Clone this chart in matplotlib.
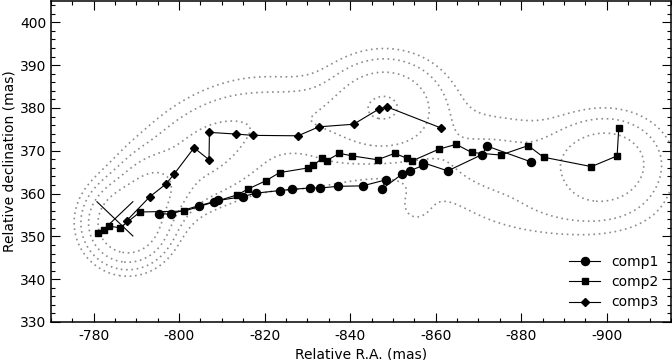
import numpy as np
import matplotlib
matplotlib.use("Agg")
import matplotlib.pyplot as plt

plt.rcParams['font.family'] = ['DejaVu Sans']
plt.rcParams['axes.unicode_minus'] = False

# ---- data (mas) ----
comp1_ra = [-795.4, -798.0, -804.7, -808.2, -809.2, -815.0, -817.9, -823.5, -826.5,
            -830.5, -833.0, -837.2, -842.9, -848.3, -847.5, -852.2, -853.9, -857.1,
            -857.1, -862.8, -870.8, -872.0, -882.3]
comp1_dec = [355.3, 355.2, 357.2, 358.1, 358.4, 359.3, 360.1, 360.7, 361.0,
             361.3, 361.3, 361.7, 361.8, 363.2, 361.1, 364.6, 365.3, 366.6,
             367.2, 365.3, 369.1, 371.1, 367.4]

comp2_ra = [-781.0, -782.5, -783.6, -786.2, -790.9, -801.2, -813.6, -816.0, -820.3,
            -823.5, -830.2, -831.4, -833.4, -834.5, -837.5, -840.5, -846.4, -850.4,
            -853.4, -854.4, -860.8, -864.8, -868.4, -875.2, -881.6, -885.2, -896.4,
            -902.4, -902.8]
comp2_dec = [350.9, 351.6, 352.4, 352.0, 355.7, 355.9, 359.7, 361.0, 363.0,
             364.9, 366.0, 366.6, 368.2, 367.7, 369.4, 368.8, 367.9, 369.4,
             368.2, 367.6, 370.4, 371.5, 369.6, 369.0, 371.2, 368.5, 366.3,
             368.8, 375.4]

comp3_ra = [-787.8, -793.2, -796.9, -798.8, -803.5, -807.0, -807.1, -813.4, -817.3,
            -827.8, -832.7, -840.8, -846.8, -848.5, -861.3]
comp3_dec = [353.7, 359.3, 362.2, 364.5, 370.7, 367.9, 374.3, 373.9, 373.6,
             373.5, 375.6, 376.2, 379.8, 380.3, 375.3]

# cross marking the reference position
cross_a_ra = [-780.8, -789.2]
cross_a_dec = [358.1, 350.1]
cross_b_ra = [-789.2, -780.8]
cross_b_dec = [358.1, 350.1]

# image model: gaussian components (ra, dec, sig_ra, sig_dec, angle_deg, amplitude)
img_ra   = [-788.0, -794.0, -806.0, -830.0, -848.0, -900.0, -874.0, -832.0, -890.0, -855.0, -845.0]
img_dec  = [353.0,  361.0,  370.0,  377.0,  380.5,  367.0,  367.5,  365.0,  356.0,  356.0,  372.0]
img_sra  = [5.0,    4.5,    13.0,   8.0,    8.0,    8.0,    12.0,   12.0,   14.0,   4.0,    20.0]
img_sdec = [5.0,    4.5,    7.0,    5.0,    6.5,    6.5,    7.0,    4.0,    5.0,    4.0,    9.0]
img_ang  = [0.0,    0.0,    -33.0,  0.0,    0.0,    0.0,    0.0,    -15.0,  0.0,    0.0,    -10.0]
img_amp  = [20.0,   6.5,    5.0,    2.5,    8.0,    7.0,    2.3,    0.9,    1.5,    0.8,    0.6]
levels = [1, 2, 4, 8]

# ---- figure ----
fig = plt.figure(figsize=(6.72, 3.6), dpi=100)
ax = fig.add_axes([0.0755, 0.1056, 0.923, 0.8917])

gx = np.linspace(-765, -920, 400)
gy = np.linspace(325, 410, 300)
X, Y = np.meshgrid(gx, gy)
Z = np.zeros_like(X)
for x0, y0, sx, sy, a, A in zip(img_ra, img_dec, img_sra, img_sdec, img_ang, img_amp):
    t = np.deg2rad(a)
    dx = X - x0
    dy = Y - y0
    u = dx * np.cos(t) + dy * np.sin(t)
    v = -dx * np.sin(t) + dy * np.cos(t)
    Z += A * np.exp(-0.5 * ((u / sx) ** 2 + (v / sy) ** 2))
ax.contour(X, Y, Z, levels=levels, colors='0.55', linestyles=[(0, (1, 2.2))],
           linewidths=1.2)

ax.plot(cross_a_ra, cross_a_dec, color='k', lw=0.8)
ax.plot(cross_b_ra, cross_b_dec, color='k', lw=0.8)

ax.plot(comp1_ra, comp1_dec, '-o', color='k', lw=0.8, ms=5.8, label='comp1')
ax.plot(comp2_ra, comp2_dec, '-s', color='k', lw=0.8, ms=4.5, label='comp2')
ax.plot(comp3_ra, comp3_dec, '-D', color='k', lw=0.8, ms=4.2, label='comp3')

ax.set_xlim(-770, -915)
ax.set_ylim(330, 405)
ax.set_xticks(np.arange(-780, -901, -20))
ax.set_xticks(np.arange(-770, -916, -5), minor=True)
ax.set_yticks(np.arange(330, 401, 10))
ax.set_yticks(np.arange(330, 405.1, 2), minor=True)
ax.tick_params(which='both', direction='in', top=True, right=True, labelsize=10)
ax.tick_params(which='major', length=6.5, width=0.8)
ax.tick_params(which='minor', length=3.2, width=0.8)
ax.tick_params(axis='x', pad=5)
ax.tick_params(axis='y', pad=3)
for s in ax.spines.values():
    s.set_linewidth(1.1)
ax.set_xlabel('Relative R.A. (mas)', fontsize=10, labelpad=3)
ax.set_ylabel('Relative declination (mas)', fontsize=10, labelpad=3)
ax.legend(loc='lower right', frameon=False, fontsize=10, handlelength=2.2,
          labelspacing=0.45, borderaxespad=0.5)

fig.savefig('out.png', dpi=100)
